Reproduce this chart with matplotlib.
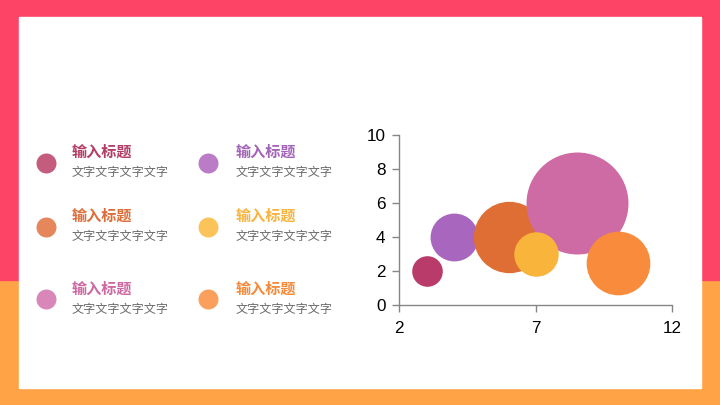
import matplotlib
matplotlib.use("Agg")
import matplotlib.pyplot as plt
from matplotlib.patches import Rectangle

plt.rcParams['font.family'] = ['Noto Sans CJK SC', 'DejaVu Sans']

# bubble data (drawing order)
bx = [3, 4, 6, 8.5, 7, 10]
by = [2, 4, 4, 6, 3, 2.5]
bsize = [0.9, 2.2, 4.9, 10, 1.9, 3.9]
bcolors = ["#B93B69", "#A866BE", "#DF6E35", "#CF6BA4", "#F9B43B", "#F98C3C"]

# legend items
titles = ["输入标题"] * 6
subtitles = ["文字文字文字文字"] * 6
dot_colors = ["#C45C7E", "#BA7CC6", "#E5875B", "#FBC45B", "#D987B9", "#FA9F5C"]
title_colors = ["#B23D66", "#A464B8", "#DC6E3A", "#F8B43E", "#CC69A2", "#F58A3A"]

xticks = [2, 7, 12]
yticks = [0, 2, 4, 6, 8, 10]

W, H = 720, 405
fig = plt.figure(figsize=(7.2, 4.05), dpi=100)

# background: pink top, orange bottom, white panel
fig.patches.append(Rectangle((0, 0), 1, 1 - 279.5 / H, transform=fig.transFigure,
                             color="#FFA346", zorder=-3))
fig.patches.append(Rectangle((0, 1 - 279.5 / H), 1, 279.5 / H, transform=fig.transFigure,
                             color="#FE4466", zorder=-3))
fig.patches.append(Rectangle((19 / W, 1 - 387.5 / H), (701 - 19) / W, (387.5 - 17) / H,
                             transform=fig.transFigure, color="white", zorder=-2))

# legend block
dot_x = [45.5, 208.3]
text_x = [71.5, 236]
dot_y = [162.7, 226.5, 299.3]
title_y = [152, 216, 288.5]
sub_y = [172.7, 236.7, 310]
for i in range(6):
    col = i % 2
    row = i // 2
    fig.text(text_x[col] / W, 1 - title_y[row] / H, titles[i], color=title_colors[i],
             fontsize=10.9, fontweight="bold", ha="left", va="center")
    fig.text(text_x[col] / W, 1 - sub_y[row] / H, subtitles[i], color="#6A6A6A",
             fontsize=8.7, ha="left", va="center")

lax = fig.add_axes([0, 0, 1, 1])
lax.set_xlim(0, W)
lax.set_ylim(H, 0)
lax.axis("off")
for i in range(6):
    lax.scatter(dot_x[i % 2], dot_y[i // 2], s=207, color=dot_colors[i], linewidths=0)

# bubble chart
ax = fig.add_axes([399.3 / W, 1 - 305.3 / H, (672.3 - 399.3) / W, (305.3 - 134.7) / H])
ax.patch.set_alpha(0)
for i in range(len(bx)):
    ax.scatter(bx[i], by[i], s=bsize[i] * 539, color=bcolors[i], linewidths=0,
               zorder=3 + i, clip_on=False)
ax.set_xlim(2, 12)
ax.set_ylim(0, 10)
ax.set_xticks(xticks)
ax.set_yticks(yticks)
for s in ["top", "right"]:
    ax.spines[s].set_visible(False)
for s in ["left", "bottom"]:
    ax.spines[s].set_color("#868686")
    ax.spines[s].set_linewidth(1)
ax.tick_params(axis="both", colors="#868686", length=5, width=1, labelcolor="black",
               labelsize=12.3)
ax.tick_params(axis="x", pad=6)
ax.tick_params(axis="y", pad=5)
for lab in ax.get_xticklabels() + ax.get_yticklabels():
    lab.set_family("Liberation Sans")

fig.savefig("out.png", dpi=100)
